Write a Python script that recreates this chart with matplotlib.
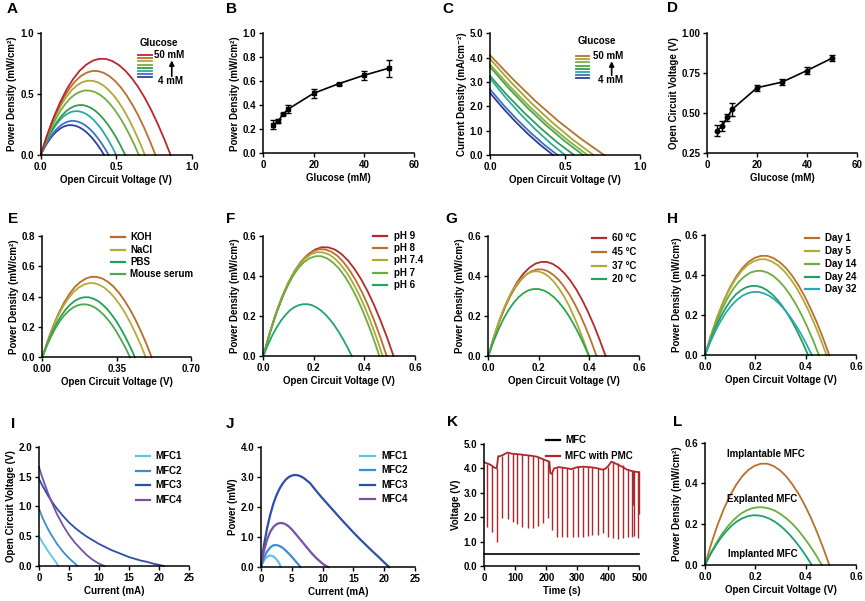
import numpy as np
import matplotlib
matplotlib.use("Agg")
import matplotlib.pyplot as plt
from matplotlib.ticker import FormatStrFormatter

plt.rcParams['font.family'] = ['Liberation Sans', 'DejaVu Sans']
plt.rcParams['font.weight'] = 'bold'
plt.rcParams['axes.labelweight'] = 'bold'

# ---------------- data ----------------
# A: power density vs voltage, glucose 4..50 mM
glucose = [4, 6, 8, 10, 20, 30, 40, 50]
a_x = [
    [0, .021, .042, .063, .084, .105, .126, .147, .168, .189, .21, .231, .252, .273, .294, .315, .336, .357, .378, .399, .42],
    [0, .0225, .045, .0675, .09, .1125, .135, .1575, .18, .2025, .225, .2475, .27, .2925, .315, .3375, .36, .3825, .405, .4275, .45],
    [0, .025, .05, .075, .1, .125, .15, .175, .2, .225, .25, .275, .3, .325, .35, .375, .4, .425, .45, .475, .5],
    [0, .028, .056, .084, .112, .14, .168, .196, .224, .252, .28, .308, .336, .364, .392, .42, .448, .476, .504, .532, .56],
    [0, .0325, .065, .0975, .13, .1625, .195, .2275, .26, .2925, .325, .3575, .39, .4225, .455, .4875, .52, .5525, .585, .6175, .65],
    [0, .0345, .069, .1035, .138, .1725, .207, .2415, .276, .3105, .345, .3795, .414, .4485, .483, .5175, .552, .5865, .621, .6555, .69],
    [0, .038, .076, .114, .152, .19, .228, .266, .304, .342, .38, .418, .456, .494, .532, .57, .608, .646, .684, .722, .76],
    [0, .043, .086, .129, .172, .215, .258, .301, .344, .387, .43, .473, .516, .559, .602, .645, .688, .731, .774, .817, .86],
]
a_y = [
    [0, .051, .096, .134, .167, .193, .214, .230, .240, .245, .244, .239, .229, .215, .196, .173, .146, .115, .080, .042, 0],
    [0, .058, .109, .153, .191, .221, .245, .262, .274, .279, .279, .273, .262, .246, .224, .198, .167, .131, .092, .048, 0],
    [0, .075, .141, .197, .245, .284, .315, .337, .352, .359, .359, .351, .337, .316, .288, .254, .215, .169, .118, .062, 0],
    [0, .085, .160, .225, .279, .323, .359, .384, .401, .409, .409, .400, .384, .360, .328, .289, .244, .192, .134, .070, 0],
    [0, .110, .207, .290, .361, .418, .464, .497, .518, .529, .528, .517, .496, .465, .424, .374, .316, .249, .173, .091, 0],
    [0, .127, .239, .334, .415, .481, .534, .572, .597, .609, .608, .595, .571, .535, .488, .431, .364, .286, .199, .104, 0],
    [0, .144, .270, .378, .470, .544, .604, .647, .675, .689, .688, .673, .646, .605, .552, .487, .411, .324, .226, .118, 0],
    [0, .164, .309, .433, .538, .623, .691, .740, .773, .788, .788, .771, .739, .693, .632, .558, .471, .371, .258, .135, 0],
]
a_colors = ['#2e3f9d', '#3873c4', '#2aaaa5', '#2f9e4f', '#6fae3f', '#b2a838', '#bc6e2e', '#b8282e']

# B: peak power density vs glucose
b_power = [0.24, 0.27, 0.33, 0.37, 0.50, 0.58, 0.65, 0.71]
b_err = [0.04, 0.02, 0.01, 0.03, 0.04, 0.01, 0.04, 0.07]

# C: current density vs voltage
c_x = [
    [0, .084, .168, .252, .336, .42],
    [0, .09, .18, .27, .36, .45],
    [0, .1, .2, .3, .4, .5],
    [0, .112, .224, .336, .448, .56],
    [0, .124, .248, .372, .496, .62],
    [0, .13, .26, .39, .52, .65],
    [0, .138, .276, .414, .552, .69],
    [0, .152, .304, .456, .608, .76],
]
c_y = [
    [2.55, 1.94, 1.38, .87, .41, 0],
    [2.70, 2.05, 1.46, .92, .43, 0],
    [3.15, 2.39, 1.70, 1.07, .50, 0],
    [3.25, 2.47, 1.76, 1.11, .52, 0],
    [3.62, 2.75, 1.95, 1.23, .58, 0],
    [3.72, 2.83, 2.01, 1.26, .60, 0],
    [3.95, 3.00, 2.13, 1.34, .63, 0],
    [4.10, 3.12, 2.21, 1.39, .66, 0],
]
c_colors = ['#2d3e9a', '#3a72c2', '#2aaca8', '#2f9e55', '#4aa64a', '#86b13e', '#aaa23a', '#b5722f']

# D: open circuit voltage vs glucose
d_voc = [0.392, 0.42, 0.475, 0.525, 0.66, 0.695, 0.767, 0.844]
d_err = [0.035, 0.03, 0.02, 0.04, 0.02, 0.02, 0.02, 0.02]

# E: electrolytes
e_labels = ['KOH', 'NaCl', 'PBS', 'Mouse serum']
e_colors = ['#b86a2a', '#b5ab38', '#1fa15a', '#4ea84a']
e_x = [
    [0, .0258, .0515, .0773, .103, .1288, .1545, .1803, .206, .2318, .2575, .2833, .309, .3348, .3605, .3863, .412, .4378, .4635, .4893, .515],
    [0, .0244, .0487, .0731, .0974, .1218, .1461, .1705, .1948, .2192, .2435, .2679, .2922, .3166, .3409, .3653, .3896, .414, .4383, .4627, .487],
    [0, .0218, .0436, .0654, .0872, .109, .1308, .1526, .1744, .1962, .218, .2398, .2616, .2834, .3052, .327, .3488, .3706, .3924, .4142, .436],
    [0, .0207, .0413, .062, .0826, .1033, .1239, .1446, .1652, .1859, .2065, .2272, .2478, .2685, .2891, .3098, .3304, .3511, .3717, .3924, .413],
]
e_y = [
    [0, .111, .208, .292, .362, .420, .466, .498, .520, .531, .530, .519, .498, .467, .426, .376, .317, .250, .174, .091, 0],
    [0, .102, .192, .269, .334, .387, .429, .459, .479, .489, .489, .478, .459, .430, .392, .346, .292, .230, .160, .084, 0],
    [0, .083, .155, .218, .270, .313, .347, .372, .388, .396, .396, .387, .372, .348, .318, .280, .237, .186, .130, .068, 0],
    [0, .073, .137, .192, .238, .276, .306, .328, .342, .349, .349, .342, .328, .307, .280, .247, .209, .164, .114, .060, 0],
]

# F: pH
f_labels = ['pH 9', 'pH 8', 'pH 7.4', 'pH 7', 'pH 6']
f_colors = ['#b52a2a', '#b8702c', '#b0a935', '#6aae3e', '#20a56a']
f_x = [
    [0, .0258, .0515, .0773, .103, .1288, .1545, .1803, .206, .2318, .2575, .2833, .309, .3348, .3605, .3863, .412, .4378, .4635, .4893, .515],
    [0, .0244, .0488, .0732, .0976, .122, .1464, .1708, .1952, .2196, .244, .2684, .2928, .3172, .3416, .366, .3904, .4148, .4392, .4636, .488],
    [0, .0236, .0472, .0708, .0944, .118, .1416, .1652, .1888, .2124, .236, .2596, .2832, .3068, .3304, .354, .3776, .4012, .4248, .4484, .472],
    [0, .023, .0459, .0689, .0918, .1148, .1377, .1607, .1836, .2066, .2295, .2525, .2754, .2984, .3213, .3443, .3672, .3902, .4131, .4361, .459],
    [0, .0175, .035, .0525, .07, .0875, .105, .1225, .14, .1575, .175, .1925, .21, .2275, .245, .2625, .28, .2975, .315, .3325, .35],
]
f_y = [
    [0, .113, .213, .299, .371, .430, .477, .511, .533, .544, .543, .532, .510, .478, .436, .385, .325, .256, .178, .093, 0],
    [0, .111, .209, .293, .364, .422, .468, .501, .523, .534, .533, .522, .501, .469, .428, .378, .319, .251, .175, .091, 0],
    [0, .108, .203, .285, .354, .410, .455, .487, .509, .519, .518, .508, .487, .456, .416, .367, .310, .244, .170, .089, 0],
    [0, .104, .196, .274, .341, .395, .438, .469, .489, .499, .499, .488, .468, .439, .400, .353, .298, .235, .164, .086, 0],
    [0, .054, .102, .142, .177, .205, .228, .244, .254, .259, .259, .254, .243, .228, .208, .184, .155, .122, .085, .044, 0],
]

# G: temperature
g_labels = ['60 \u00b0C', '45 \u00b0C', '37 \u00b0C', '20 \u00b0C']
g_colors = ['#b52a2a', '#b8702c', '#b0a935', '#2aa64a']
g_x = [
    [0, .0233, .0466, .0699, .0932, .1165, .1398, .1631, .1864, .2097, .233, .2563, .2796, .3029, .3262, .3495, .3728, .3961, .4194, .4427, .466],
    [0, .0215, .043, .0645, .086, .1075, .129, .1505, .172, .1935, .215, .2365, .258, .2795, .301, .3225, .344, .3655, .387, .4085, .43],
    [0, .02, .04, .06, .08, .1, .12, .14, .16, .18, .2, .22, .24, .26, .28, .3, .32, .34, .36, .38, .40],
    [0, .02, .04, .06, .08, .1, .12, .14, .16, .18, .2, .22, .24, .26, .28, .3, .32, .34, .36, .38, .40],
]
g_y = [
    [0, .098, .184, .258, .320, .371, .411, .440, .460, .469, .469, .459, .440, .412, .376, .332, .280, .220, .154, .080, 0],
    [0, .090, .169, .237, .295, .342, .379, .406, .423, .432, .432, .423, .405, .380, .346, .306, .258, .203, .142, .074, 0],
    [0, .088, .165, .232, .288, .334, .370, .396, .414, .422, .422, .413, .396, .371, .338, .299, .252, .198, .138, .072, 0],
    [0, .070, .131, .184, .228, .264, .293, .314, .328, .334, .334, .327, .314, .294, .268, .237, .200, .157, .110, .057, 0],
]

# H: storage days
h_labels = ['Day 1', 'Day 5', 'Day 14', 'Day 24', 'Day 32']
h_colors = ['#b8702c', '#b0aa36', '#6aae3e', '#22a060', '#2aa9b3']
h_x = [
    [0, .0247, .0494, .0741, .0988, .1235, .1482, .1729, .1976, .2223, .247, .2717, .2964, .3211, .3458, .3705, .3952, .4199, .4446, .4693, .494],
    [0, .0242, .0483, .0725, .0966, .1208, .1449, .1691, .1932, .2174, .2415, .2657, .2898, .314, .3381, .3623, .3864, .4106, .4347, .4589, .483],
    [0, .0227, .0453, .068, .0906, .1133, .1359, .1586, .1812, .2039, .2265, .2492, .2718, .2945, .3171, .3398, .3624, .3851, .4077, .4304, .453],
    [0, .0205, .041, .0615, .082, .1025, .123, .1435, .164, .1845, .205, .2255, .246, .2665, .287, .3075, .328, .3485, .369, .3895, .41],
    [0, .0213, .0425, .0638, .085, .1063, .1275, .1488, .17, .1913, .2125, .2338, .255, .2763, .2975, .3188, .34, .3613, .3825, .4038, .425],
]
h_y = [
    [0, .103, .194, .272, .338, .392, .435, .466, .486, .496, .496, .485, .465, .436, .398, .351, .296, .233, .163, .085, 0],
    [0, .100, .188, .263, .327, .379, .420, .450, .469, .479, .479, .468, .449, .421, .384, .339, .286, .225, .157, .082, 0],
    [0, .088, .165, .231, .287, .333, .369, .395, .413, .421, .421, .412, .395, .370, .338, .298, .252, .198, .138, .072, 0],
    [0, .072, .136, .190, .236, .274, .304, .325, .339, .346, .346, .339, .325, .304, .278, .245, .207, .163, .113, .059, 0],
    [0, .066, .124, .174, .216, .250, .277, .297, .310, .316, .316, .309, .297, .278, .254, .224, .189, .149, .104, .054, 0],
]

# I / J: MFC polarisation and power
mfc_labels = ['MFC1', 'MFC2', 'MFC3', 'MFC4']
mfc_colors = ['#5cc6e0', '#3a8fd0', '#2e4fa8', '#7b4fa8']
i_x = [
    [0, 0.5, 1, 1.5, 2, 2.5, 3, 3.2],
    [0, 0.5, 1, 1.5, 2, 3, 4, 5, 6, 6.4],
    [0, 0.5, 1, 1.5, 2, 3, 4, 5, 6, 7, 8, 9, 10, 11, 12, 13, 14, 15, 16, 17, 18, 19, 20, 20.8],
    [0, 0.5, 1, 1.5, 2, 2.5, 3, 4, 5, 6, 7, 8, 9, 10, 10.9],
]
i_y = [
    [0.50, 0.41, 0.33, 0.25, 0.18, 0.11, 0.04, 0],
    [0.96, 0.83, 0.72, 0.62, 0.53, 0.37, 0.24, 0.13, 0.04, 0],
    [1.46, 1.36, 1.27, 1.18, 1.10, 0.96, 0.84, 0.73, 0.64, 0.56, 0.49, 0.43, 0.37, 0.32, 0.27,
     0.23, 0.19, 0.15, 0.12, 0.09, 0.07, 0.04, 0.02, 0],
    [1.66, 1.50, 1.36, 1.22, 1.10, 0.98, 0.87, 0.68, 0.52, 0.39, 0.28, 0.18, 0.10, 0.04, 0],
]
j_x = [
    [0, 0.25, 0.5, 0.75, 1, 1.25, 1.5, 1.75, 2, 2.25, 2.5, 2.75, 3, 3.2],
    [0, 0.25, 0.5, 1, 1.5, 2, 2.5, 3, 3.5, 4, 4.5, 5, 5.5, 6, 6.4],
    [0, 0.25, 0.5, 1, 1.5, 2, 2.5, 3, 3.5, 4, 4.5, 5, 5.5, 6, 6.5, 7, 8, 9, 10, 11, 12, 13, 14,
     15, 16, 17, 18, 19, 20, 20.8],
    [0, 0.25, 0.5, 1, 1.5, 2, 2.5, 3, 3.5, 4, 4.5, 5, 6, 7, 8, 9, 10, 10.5, 10.9],
]
j_y = [
    [0, 0.13, 0.22, 0.29, 0.33, 0.37, 0.38, 0.37, 0.35, 0.31, 0.26, 0.19, 0.11, 0],
    [0, 0.18, 0.32, 0.52, 0.65, 0.72, 0.73, 0.70, 0.64, 0.55, 0.45, 0.34, 0.22, 0.10, 0],
    [0, 0.40, 0.75, 1.30, 1.74, 2.10, 2.38, 2.60, 2.77, 2.90, 2.99, 3.04, 3.06, 3.05, 3.01, 2.95,
     2.78, 2.52, 2.28, 2.05, 1.82, 1.59, 1.37, 1.15, 0.94, 0.74, 0.54, 0.35, 0.15, 0],
    [0, 0.30, 0.55, 0.92, 1.17, 1.33, 1.42, 1.46, 1.46, 1.42, 1.35, 1.25, 1.01, 0.76, 0.51, 0.29,
     0.11, 0.04, 0],
]

# K: voltage over time
k_mfc_t = [0, 100, 200, 300, 400, 500]
k_mfc_v = [0.48, 0.48, 0.48, 0.48, 0.48, 0.48]
k_base_t = [0, 10, 20, 30, 40, 45, 50, 60, 75, 90, 110, 130, 150, 170, 185, 200, 210, 213,
            218, 225, 240, 260, 280, 300, 320, 340, 360, 380, 390, 400, 410, 420, 440, 460,
            480, 495, 500]
k_base_v = [4.25, 4.2, 4.15, 4.05, 4.0, 4.5, 4.5, 4.55, 4.65, 4.6, 4.58, 4.55, 4.52, 4.48,
            4.4, 4.32, 4.28, 3.8, 3.78, 4.0, 4.05, 4.02, 3.97, 4.05, 4.07, 4.05, 4.02, 3.95,
            3.98, 4.1, 4.28, 4.22, 4.1, 3.95, 3.88, 3.85, 3.85]
k_spike_t = [8, 25, 42, 58, 75, 91, 107, 123, 140, 156, 172, 188, 204, 219, 236, 252, 268,
             285, 301, 317, 333, 349, 366, 382, 398, 414, 430, 446, 462, 476, 479, 483, 497, 500]
k_spike_hi = [4.2, 4.12, 4.0, 4.52, 4.65, 4.6, 4.59, 4.57, 4.55, 4.52, 4.48, 4.4, 4.32, 3.8,
              4.02, 4.05, 4.03, 3.98, 4.05, 4.06, 4.07, 4.05, 4.03, 3.96, 4.05, 4.28, 4.22,
              4.12, 3.98, 3.9, 3.9, 3.88, 3.85, 3.85]
k_spike_lo = [1.6, 1.4, 1.0, 1.95, 1.93, 1.82, 1.71, 1.6, 1.57, 1.57, 1.65, 1.75, 1.95, 1.48,
              1.2, 1.2, 1.17, 1.2, 1.2, 1.2, 1.24, 1.27, 1.27, 1.37, 1.17, 1.14, 1.12, 1.15,
              1.17, 1.2, 2.5, 1.25, 1.15, 2.15]

# L: implantation
l_labels = ['Implantable MFC', 'Explanted MFC', 'Implanted MFC']
l_colors = ['#b8702c', '#6aae3e', '#1fa070']
l_x = [
    [0, .0247, .0494, .0741, .0988, .1235, .1482, .1729, .1976, .2223, .247, .2717, .2964, .3211, .3458, .3705, .3952, .4199, .4446, .4693, .494],
    [0, .0232, .0464, .0696, .0928, .116, .1392, .1624, .1856, .2088, .232, .2552, .2784, .3016, .3248, .348, .3712, .3944, .4176, .4408, .464],
    [0, .0212, .0424, .0636, .0848, .106, .1272, .1484, .1696, .1908, .212, .2332, .2544, .2756, .2968, .318, .3392, .3604, .3816, .4028, .424],
]
l_y = [
    [0, .104, .195, .273, .339, .393, .436, .467, .487, .497, .497, .486, .466, .437, .398, .352, .297, .234, .163, .085, 0],
    [0, .059, .111, .156, .193, .224, .249, .266, .278, .283, .283, .277, .266, .249, .227, .201, .169, .133, .093, .049, 0],
    [0, .051, .095, .134, .166, .193, .214, .229, .239, .244, .243, .238, .228, .214, .195, .172, .145, .114, .080, .042, 0],
]
l_text_x = [0.242, 0.228, 0.228]
l_text_y = [0.544, 0.324, 0.052]

# ---------------- figure ----------------
W, H = 865, 601
fig = plt.figure(figsize=(W / 100, H / 100), dpi=100)

TICK_FS = 7
LABEL_FS = 7
LEG_FS = 7
LW = 1.3


def px_axes(x0, x1, y0, y1):
    return fig.add_axes([x0 / W, 1 - y1 / H, (x1 - x0) / W, (y1 - y0) / H])


def style(ax, xlim, xticks, xfmt, ylim, yticks, yfmt, xlabel, ylabel):
    ax.set_xlim(*xlim)
    ax.set_ylim(*ylim)
    ax.set_xticks(xticks)
    ax.set_yticks(yticks)
    ax.xaxis.set_major_formatter(FormatStrFormatter(xfmt))
    ax.yaxis.set_major_formatter(FormatStrFormatter(yfmt))
    for s in ['top', 'right']:
        ax.spines[s].set_visible(False)
    for s in ['left', 'bottom']:
        ax.spines[s].set_linewidth(1.1)
    ax.tick_params(direction='out', length=3, width=1.0, labelsize=TICK_FS, pad=2)
    ax.set_xlabel(xlabel, fontsize=LABEL_FS, labelpad=2)
    ax.set_ylabel(ylabel, fontsize=LABEL_FS, labelpad=2)
    ax.patch.set_alpha(0)


def line_legend(ax, colors, labels, x0, x1, ytop, dy, tx, lw=1.6):
    for i, (c, l) in enumerate(zip(colors, labels)):
        y = ytop - i * dy
        ax.plot([x0, x1], [y, y], color=c, lw=lw, transform=ax.transAxes, clip_on=False)
        ax.text(tx, y, l, transform=ax.transAxes, va='center', ha='left', fontsize=LEG_FS,
                fontweight='bold')


def glucose_legend(ax, colors, x0, x1, ytop, ybot, title_xy, top_xy, bot_xy, arrow_x, arrow_y):
    n = len(colors)
    for i, c in enumerate(colors[::-1]):
        y = ytop - i * (ytop - ybot) / (n - 1)
        ax.plot([x0, x1], [y, y], color=c, lw=1.3, transform=ax.transAxes, clip_on=False)
    ax.text(*title_xy, 'Glucose', transform=ax.transAxes, ha='center', va='center',
            fontsize=LEG_FS, fontweight='bold')
    ax.text(*top_xy, '50 mM', transform=ax.transAxes, ha='left', va='center',
            fontsize=LEG_FS, fontweight='bold')
    ax.text(*bot_xy, '4 mM', transform=ax.transAxes, ha='left', va='center',
            fontsize=LEG_FS, fontweight='bold')
    ax.annotate('', xy=(arrow_x, arrow_y[1]), xytext=(arrow_x, arrow_y[0]),
                xycoords='axes fraction',
                arrowprops=dict(arrowstyle='-|>', color='black', lw=1.2,
                                mutation_scale=7, shrinkA=0, shrinkB=0))


def curves(ax, xs, ys, colors, lw=LW):
    for x, y, c in zip(xs, ys, colors):
        ax.plot(x, y, color=c, lw=lw, clip_on=False, solid_joinstyle='round')


pd_label = 'Power Density (mW/cm\u00b2)'
ocv_label = 'Open Circuit Voltage (V)'

# A
ax = px_axes(40.7, 191.7, 33, 155)
curves(ax, a_x, a_y, a_colors)
style(ax, (0, 1), [0, 0.5, 1.0], '%.1f', (0, 1), [0, 0.5, 1.0], '%.1f', ocv_label, pd_label)
glucose_legend(ax, a_colors, 0.644, 0.737, 0.82, 0.637, (0.783, 0.92), (0.75, 0.82),
               (0.777, 0.609), 0.868, (0.645, 0.775))

# B
ax = px_axes(263.3, 414.3, 33.3, 153.3)
ax.errorbar(glucose, b_power, yerr=b_err, fmt='-s', color='black', ms=3.5, lw=1.2,
            elinewidth=1.0, capsize=2.5, capthick=1.0, clip_on=False)
style(ax, (0, 60), [0, 20, 40, 60], '%d', (0, 1), [0, .2, .4, .6, .8, 1.0], '%.1f',
      'Glucose (mM)', pd_label)

# C
ax = px_axes(490, 640, 33.3, 155)
curves(ax, c_x, c_y, c_colors)
style(ax, (0, 1), [0, 0.5, 1.0], '%.1f', (0, 5), [0, 1, 2, 3, 4, 5], '%.1f', ocv_label,
      'Current Density (mA/cm\u207b\u00b2)')
glucose_legend(ax, c_colors, 0.571, 0.662, 0.813, 0.63, (0.711, 0.939), (0.689, 0.813),
               (0.72, 0.616), 0.811, (0.655, 0.77))

# D
ax = px_axes(707.3, 856.7, 33.3, 153.3)
ax.errorbar(glucose, d_voc, yerr=d_err, fmt='-o', color='black', ms=3.2, lw=1.2,
            elinewidth=1.0, capsize=2.5, capthick=1.0, clip_on=False)
style(ax, (0, 60), [0, 20, 40, 60], '%d', (0.25, 1), [0.25, 0.5, 0.75, 1.0], '%.2f',
      'Glucose (mM)', ocv_label)

# E
ax = px_axes(42.3, 191, 236, 357.3)
curves(ax, e_x, e_y, e_colors)
style(ax, (0, 0.7), [0, 0.35, 0.7], '%.2f', (0, 0.8), [0, .2, .4, .6, .8], '%.1f',
      ocv_label, pd_label)
line_legend(ax, e_colors, e_labels, 0.462, 0.556, 0.989, 0.101, 0.589)

# F
ax = px_axes(263.3, 415, 236, 356)
curves(ax, f_x, f_y, f_colors)
style(ax, (0, 0.6), [0, .2, .4, .6], '%.1f', (0, 0.6), [0, .2, .4, .6], '%.1f',
      ocv_label, pd_label)
line_legend(ax, f_colors, f_labels, 0.721, 0.818, 1.0, 0.102, 0.859)

# G
ax = px_axes(488.3, 639.3, 235.7, 356)
curves(ax, g_x, g_y, g_colors)
style(ax, (0, 0.6), [0, .2, .4, .6], '%.1f', (0, 0.6), [0, .2, .4, .6], '%.1f',
      ocv_label, pd_label)
line_legend(ax, g_colors, g_labels, 0.685, 0.777, 0.978, 0.113, 0.816)

# H
ax = px_axes(705, 856, 235, 355.3)
curves(ax, h_x, h_y, h_colors)
style(ax, (0, 0.6), [0, .2, .4, .6], '%.1f', (0, 0.6), [0, .2, .4, .6], '%.1f',
      ocv_label, pd_label)
line_legend(ax, h_colors, h_labels, 0.662, 0.757, 0.973, 0.106, 0.795)

# I
ax = px_axes(39, 189, 446.7, 566)
curves(ax, i_x, i_y, mfc_colors)
style(ax, (0, 25), [0, 5, 10, 15, 20, 25], '%d', (0, 2), [0, .5, 1, 1.5, 2], '%.1f',
      'Current (mA)', ocv_label)
line_legend(ax, mfc_colors, mfc_labels, 0.647, 0.74, 0.922, 0.123, 0.778)

# J
ax = px_axes(261, 415, 446.7, 567)
curves(ax, j_x, j_y, mfc_colors, lw=1.6)
style(ax, (0, 25), [0, 5, 10, 15, 20, 25], '%d', (0, 4), [0, 1, 2, 3, 4], '%.1f',
      'Current (mA)', 'Power (mW)')
line_legend(ax, mfc_colors, mfc_labels, 0.643, 0.74, 0.923, 0.119, 0.779)

# K
ax = px_axes(484.3, 639.3, 444, 566)
k_red = '#b0262b'
ax.plot(k_mfc_t, k_mfc_v, color='black', lw=1.2, clip_on=False)
ax.plot(k_base_t, k_base_v, color=k_red, lw=1.3, clip_on=False)
ax.vlines(k_spike_t, k_spike_lo, k_spike_hi, color=k_red, lw=1.0, clip_on=False)
style(ax, (0, 500), [0, 100, 200, 300, 400, 500], '%d', (0, 5), [0, 1, 2, 3, 4, 5], '%.1f',
      'Time (s)', 'Voltage (V)')
line_legend(ax, ['black', k_red], ['MFC', 'MFC with PMC'], 0.396, 0.488, 1.03, 0.131, 0.521)

# L
ax = px_axes(705, 856, 442.7, 565)
curves(ax, l_x, l_y, l_colors)
for tx, ty, lab in zip(l_text_x, l_text_y, l_labels):
    ax.text(tx, ty, lab, ha='center', va='center', fontsize=LEG_FS, fontweight='bold')
style(ax, (0, 0.6), [0, .2, .4, .6], '%.1f', (0, 0.6), [0, .2, .4, .6], '%.1f',
      ocv_label, pd_label)

# panel letters
letters = ['A', 'B', 'C', 'D', 'E', 'F', 'G', 'H', 'I', 'J', 'K', 'L']
letter_px = [(12, 9), (232, 9), (448, 9), (672, 8), (13, 219), (231, 219), (451, 219),
             (672, 219), (13, 424), (230, 424), (453, 422), (678, 422)]
for lab, (px, py) in zip(letters, letter_px):
    fig.text(px / W, 1 - py / H, lab, ha='center', va='center', fontsize=11,
             fontweight='bold')

fig.savefig('out.png', dpi=100, facecolor='white')
